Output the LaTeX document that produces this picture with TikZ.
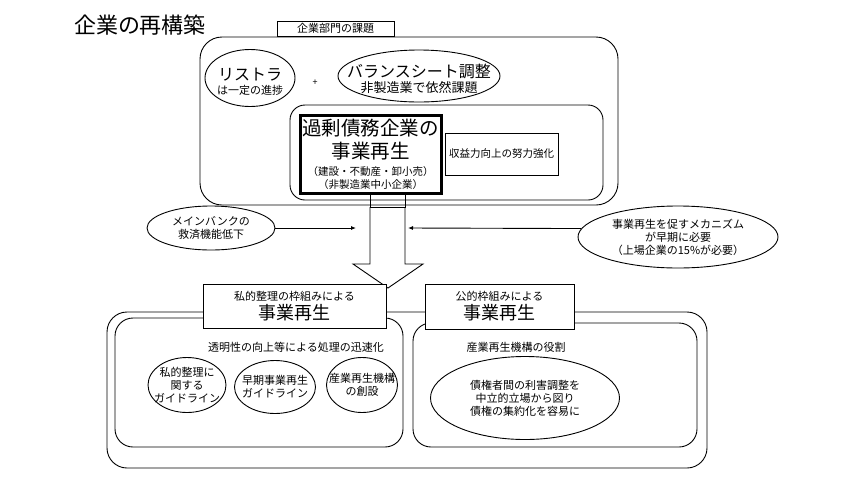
\documentclass[tikz,border=0pt]{standalone}
\usepackage{fontspec}
\setmainfont{Noto Sans CJK JP}
\usetikzlibrary{shapes.geometric, arrows.meta}

\begin{document}
\begin{tikzpicture}[x=1pt, y=-1pt, line width=0.9pt,
  txt/.style={font=\fontsize{11}{13}\selectfont, align=center, inner sep=0pt},
  panel/.style={draw, rounded corners=#1, inner sep=0pt, outer sep=0pt},
  panel/.default=20pt,
  tag/.style={draw, fill=white, inner sep=0pt, outer sep=0pt},
  oval/.style={draw, ellipse, inner sep=0pt},
  flow/.style={-{Latex[length=5pt, width=4pt]}}]
\path[fill=white] (0,0) rectangle (844,483);
\node[font=\fontsize{22}{24}\selectfont] (title) at (140,25) {企業の再構築};

% upper part
\node[panel=22pt, minimum width=418pt, minimum height=168pt] (upper) at (409,121) {};
\node[tag, txt, minimum width=117pt, minimum height=15pt] (issue) at (335.5,28.5) {企業部門の課題};
\node[panel=15pt, minimum width=313pt, minimum height=95pt] (inner) at (446.5,152.5) {};
\node[oval, minimum width=90pt, minimum height=57pt, label={[txt, yshift=-4pt]center:{\fontsize{16}{18}\selectfont リストラ}\\[1pt]は一定の進捗}] (restr) at (250,78) {};
\node[font=\fontsize{9}{10}\selectfont] (plus) at (315,83) {+};
\node[oval, minimum width=162pt, minimum height=52pt, label={[txt, yshift=-3pt]center:{\fontsize{16}{18}\selectfont バランスシート調整}\\[2pt]{\fontsize{13}{15}\selectfont 非製造業で依然課題}}] (bsheet) at (419,76) {};
\node[draw, line width=3pt, minimum width=141pt, minimum height=78pt, inner sep=0pt, align=center, font=\fontsize{19.5}{13}\selectfont] (debt) at (370.5,154) {過剰債務企業の\\[3.5pt]事業再生\\[4pt]{\fontsize{10.5}{13}\selectfont （建設・不動産・卸小売）}\\{\fontsize{10.5}{13}\selectfont （非製造業中小企業）}};
\node[draw, txt, minimum width=113pt, minimum height=42pt, font=\fontsize{10.5}{12}\selectfont] (profit) at (501.5,154) {収益力向上の努力強化};
\node[draw, minimum width=35pt, minimum height=14pt, inner sep=0pt, outer sep=0pt] (link) at (387.5,200) {};

% big arrow
\coordinate (tip) at (388,288);
\draw (link.south west) -- ++(0,57) -- ++(-17,0) -- (tip) -- ++(35,-24) -- ++(-18,0) -- (link.south east);

% side conditions
\node[oval, minimum width=128pt, minimum height=44pt, label={[txt]center:メインバンクの\\救済機能低下}] (bank) at (211,228) {};
\coordinate (bankin) at (356,228);
\draw[flow] (bank.east) -- (bankin);
\node[oval, minimum width=200pt, minimum height=62pt, label={[txt]center:事業再生を促すメカニズム\\が早期に必要\\（上場企業の15\%が必要）}] (need) at (678,237) {};
\coordinate (needin) at (408,228);
\draw[flow] (need.175) -- (needin);

% lower part
\node[panel=20pt, minimum width=600pt, minimum height=156pt] (lower) at (407,390) {};
\node[panel=18pt, minimum width=288pt, minimum height=129pt] (private) at (259,382.5) {};
\node[panel=18pt, minimum width=284pt, minimum height=124pt] (public) at (555,385) {};
\node[tag, txt, minimum width=183pt, minimum height=44pt] (privhead) at (294.5,306) {私的整理の枠組みによる\\[2pt]{\fontsize{18}{20}\selectfont 事業再生}};
\node[tag, txt, minimum width=149pt, minimum height=45pt] (pubhead) at (499.5,306.5) {公的枠組みによる\\[2pt]{\fontsize{18}{20}\selectfont 事業再生}};

\node[txt] (speed) at (296,347) {透明性の向上等による処理の迅速化};
\node[oval, minimum width=78pt, minimum height=55pt, label={[txt]center:私的整理に\\関する\\ガイドライン}] (guide) at (187,385) {};
\node[oval, minimum width=81pt, minimum height=53pt, label={[txt]center:早期事業再生\\ガイドライン}] (early) at (275,387) {};
\node[oval, minimum width=71pt, minimum height=55pt, label={[txt]center:産業再生機構\\の創設}] (found) at (362,385) {};

\node[txt] (role) at (516,347) {産業再生機構の役割};
\node[oval, minimum width=189pt, minimum height=83pt, label={[txt]center:債権者間の利害調整を\\中立的立場から図り\\債権の集約化を容易に}] (creditor) at (525,398) {};
\end{tikzpicture}
\end{document}
